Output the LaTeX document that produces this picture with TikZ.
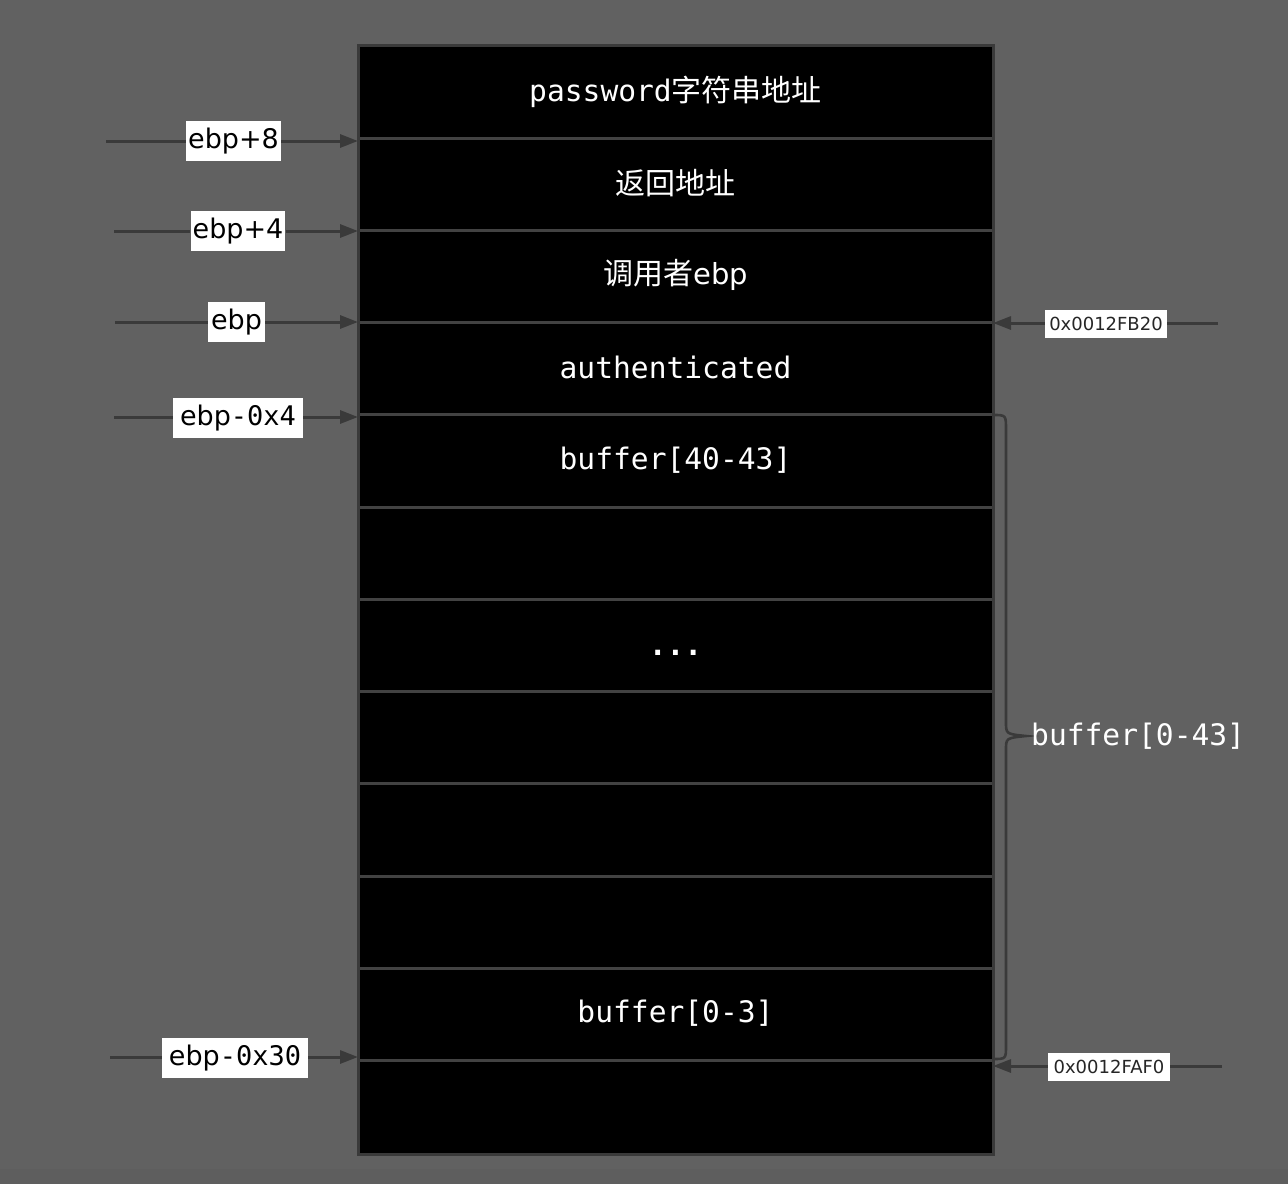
\documentclass[tikz,border=0pt]{standalone}
\usepackage{fontspec}
\usetikzlibrary{arrows.meta}
\newfontfamily\monof{DejaVu Sans Mono}
\newfontfamily\cjk{Noto Sans CJK SC}
\newfontfamily\labf{DejaVu Sans}
\definecolor{bgc}{HTML}{616161}
\definecolor{strip}{HTML}{5E5E5E}
\definecolor{edge}{HTML}{3A3A3A}
\definecolor{divc}{HTML}{424242}
\definecolor{linec}{HTML}{3A3A3A}
\newcommand{\lm}[1]{{\monof\fontsize{27}{30}\selectfont #1}}
\begin{document}
\begin{tikzpicture}[x=1pt,y=-1pt,
  cell/.style={text=white,font=\monof\fontsize{29.6}{32}\selectfont,inner sep=0pt},
  lab/.style={fill=white,text=black,font=\labf\fontsize{27}{30}\selectfont,inner xsep=2pt,inner ysep=0pt,minimum height=40pt},
  addr/.style={fill=white,text=black!85,font=\labf\fontsize{18}{21}\selectfont,inner xsep=3pt,inner ysep=0pt,minimum height=28pt,minimum width=122pt},
  conn/.style={draw=linec,line width=3pt},
  arr/.style={conn,-{Triangle[length=18pt,width=13pt]}},
  ]
\fill[bgc] (0,0) rectangle (1288,1184);
\fill[strip] (0,1169) rectangle (1288,1184);
% stack
\fill[black] (358,45) rectangle (993,1154);
\foreach \yy in {138,230,322,414,507,599,691,783,876,968,1060}
  \draw[divc,line width=3pt] (359,\yy) -- (992,\yy);
\draw[edge,line width=3pt] (358,45) rectangle (993,1154);
% cell texts
\node[cell] (r1) at (675.5,91.5) {password{\cjk\fontsize{30}{32}\selectfont 字符串地址}};
\node[cell,font=\cjk\fontsize{30}{32}\selectfont] (r2) at (675.5,183) {返回地址};
\node[cell] (r3) at (675.5,275) {{\cjk\fontsize{30}{32}\selectfont 调用者}{\labf\fontsize{29}{32}\selectfont ebp}};
\node[cell] (r4) at (675.5,367) {authenticated};
\node[cell] (r5) at (675.5,460) {buffer[40-43]};
\node[cell,font=\monof\bfseries\fontsize{29.6}{32}\selectfont,anchor=base] (r7) at (675.5,655) {...};
\node[cell] (r11) at (675.5,1013) {buffer[0-3]};
% left pointers
\coordinate (s1) at (106,141); \coordinate (t1) at (358,141);
\coordinate (s2) at (114,231); \coordinate (t2) at (358,231);
\coordinate (s3) at (115,322); \coordinate (t3) at (358,322);
\coordinate (s4) at (114,417); \coordinate (t4) at (358,417);
\coordinate (s5) at (110,1057); \coordinate (t5) at (358,1057);
\node[lab,minimum width=95pt] (l1) at (233.5,141) {ebp+8};
\node[lab,minimum width=94pt] (l2) at (238,231) {ebp+4};
\node[lab,minimum width=57pt] (l3) at (236.5,322) {ebp};
\node[lab,minimum width=130pt] (l4) at (238,418) {ebp\lm{-0x4}};
\node[lab,minimum width=146pt] (l5) at (235,1058) {ebp\lm{-0x30}};
\foreach \i in {1,...,5}{
  \draw[conn] (s\i) -- (s\i -| l\i.west);
  \draw[arr] (t\i -| l\i.east) -- (t\i);
}
% right pointers
\coordinate (u1) at (1218,323); \coordinate (v1) at (993,323);
\coordinate (u2) at (1222,1066); \coordinate (v2) at (993,1066);
\node[addr] (a1) at (1106,324) {0x0012FB20};
\node[addr] (a2) at (1109,1067) {0x0012FAF0};
\foreach \i in {1,2}{
  \draw[conn] (u\i) -- (u\i -| a\i.east);
  \draw[arr] (v\i -| a\i.west) -- (v\i);
}
% brace
\coordinate (b1) at (993,415);
\coordinate (b2) at (993,1059);
\coordinate (bt) at (1026,736);
\draw[conn,line width=2.6pt] (b1) .. controls (1006,415) .. (1006,430) -- (1006,722)
  .. controls (1006,734) .. (bt) .. controls (1006,738) .. (1006,750) -- (1006,1045)
  .. controls (1006,1059) .. (b2);
\node[cell,anchor=west] (bl) at (1031,736) {buffer[0-43]};
\end{tikzpicture}
\end{document}
